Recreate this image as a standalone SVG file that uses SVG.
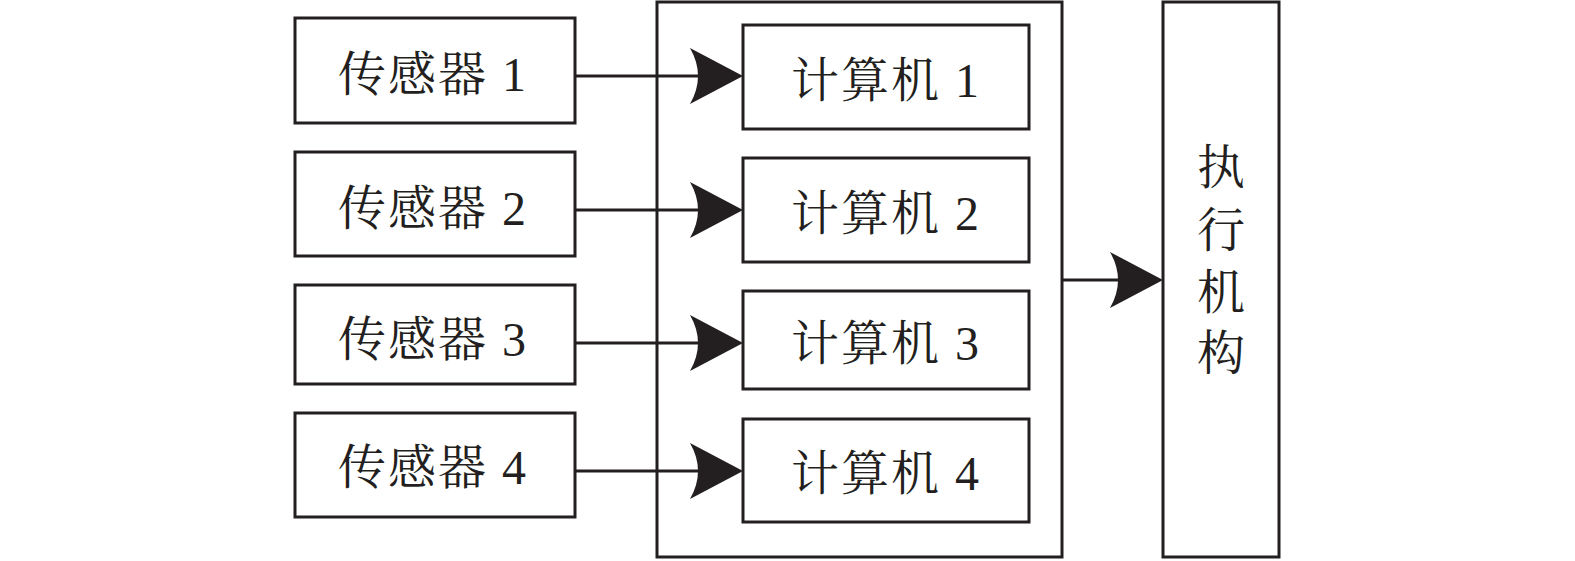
<svg xmlns="http://www.w3.org/2000/svg" width="1575" height="561" viewBox="0 0 1575 561">
<style>
.box{fill:#fff;stroke:#231f20;stroke-width:3}
.t{font-family:"Liberation Serif","Noto Serif CJK SC","Noto Sans CJK SC",serif;font-size:48px;fill:#231f20;text-anchor:middle;dominant-baseline:central}
.h{letter-spacing:2px}
.ln{stroke:#231f20;stroke-width:3;fill:none}
.ah{fill:#231f20}
</style>
<rect width="1575" height="561" fill="#fff"/>
<g id="outer"><rect class="box" x="657" y="2" width="405" height="555"/></g>
<g id="s1"><rect class="box" x="295" y="18" width="280" height="105"/><text class="t h" x="433" y="74">传感器 1</text></g>
<g id="s2"><rect class="box" x="295" y="152" width="280" height="104"/><text class="t h" x="433" y="208">传感器 2</text></g>
<g id="s3"><rect class="box" x="295" y="285" width="280" height="99"/><text class="t h" x="433" y="339">传感器 3</text></g>
<g id="s4"><rect class="box" x="295" y="413" width="280" height="104"/><text class="t h" x="433" y="467">传感器 4</text></g>
<g id="c1"><rect class="box" x="743" y="25" width="286" height="104"/><text class="t h" x="886" y="80">计算机 1</text></g>
<g id="c2"><rect class="box" x="743" y="158" width="286" height="104"/><text class="t h" x="886" y="213">计算机 2</text></g>
<g id="c3"><rect class="box" x="743" y="291" width="286" height="98"/><text class="t h" x="886" y="343">计算机 3</text></g>
<g id="c4"><rect class="box" x="743" y="419" width="286" height="103"/><text class="t h" x="886" y="473">计算机 4</text></g>
<g id="exec"><rect class="box" x="1163" y="2" width="116" height="555"/>
<text class="t" x="1221" y="167">执</text><text class="t" x="1221" y="230">行</text><text class="t" x="1221" y="292">机</text><text class="t" x="1221" y="353">构</text></g>
<g id="connectors">
<path class="ln" d="M575,76H705M575,210H705M575,343H705M575,471H705M1062,280H1120"/>
<path class="ah" d="M743,76L690,48Q706,76 690,104Z"/>
<path class="ah" d="M743,210L690,182Q706,210 690,238Z"/>
<path class="ah" d="M743,343L690,315Q706,343 690,371Z"/>
<path class="ah" d="M743,471L690,443Q706,471 690,499Z"/>
<path class="ah" d="M1163,280L1110,252Q1126,280 1110,308Z"/>
</g>
</svg>
